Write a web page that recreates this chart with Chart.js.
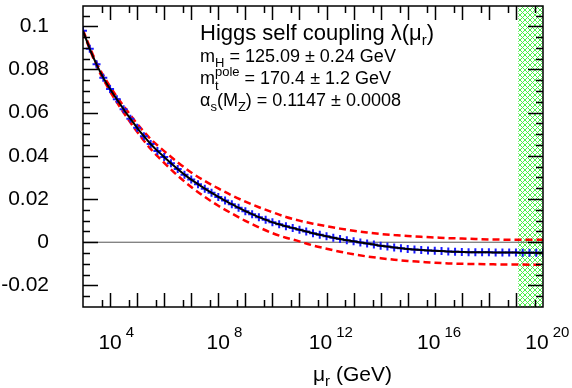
<!DOCTYPE html>
<html>
<head>
<meta charset="utf-8">
<script src="https://cdn.jsdelivr.net/npm/chart.js@4.4.1/dist/chart.umd.min.js"></script>
<style>
html, body { margin: 0; padding: 0; background: #fff; }
</style>
</head>
<body>
<canvas id="myChart" width="572" height="388"></canvas>
<script>
// log10(mu_r / GeV) grid of the central curve
var centralExp = [3, 3.25, 3.5, 3.75, 4, 4.25, 4.5, 4.75, 5, 5.25, 5.5, 5.75, 6, 6.25, 6.5, 6.75,
  7, 7.25, 7.5, 7.75, 8, 8.25, 8.5, 8.75, 9, 9.25, 9.5, 9.75, 10, 10.25, 10.5, 10.75,
  11, 11.25, 11.5, 11.75, 12, 12.25, 12.5, 12.75, 13, 13.25, 13.5, 13.75, 14, 14.25, 14.5, 14.75,
  15, 15.25, 15.5, 15.75, 16, 16.25, 16.5, 16.75, 17, 17.25, 17.5, 17.75, 18, 18.25, 18.5, 18.75,
  19, 19.25, 19.5, 19.75, 20];
var lambdaCentral = [0.0979, 0.0896, 0.0824, 0.0762, 0.0710, 0.0662, 0.0616, 0.0572, 0.0530, 0.0491, 0.0455, 0.0423, 0.0395, 0.0366, 0.0339, 0.0313,
  0.0290, 0.0269, 0.0248, 0.0229, 0.0210, 0.0193, 0.0176, 0.0160, 0.0144, 0.0130, 0.0116, 0.0104, 0.0092, 0.0083, 0.0074, 0.0066,
  0.0058, 0.0050, 0.0042, 0.0035, 0.0028, 0.0021, 0.0015, 0.0009, 0.0004, -0.0001, -0.0006, -0.0011, -0.0016, -0.0020, -0.0024, -0.0028,
  -0.0031, -0.0034, -0.0036, -0.0038, -0.0040, -0.0041, -0.0043, -0.0044, -0.0045, -0.0046, -0.0046, -0.0047, -0.0047, -0.0048, -0.0048, -0.0048,
  -0.0048, -0.0049, -0.0049, -0.0049, -0.0049];

// error band (red dashed)
var bandExp = [3, 3.5, 4, 4.5, 5, 5.5, 6, 6.5, 7, 7.5, 8, 8.5, 9, 9.5, 10, 10.5, 11, 11.5,
  12, 12.5, 13, 13.5, 14, 14.5, 15, 15.5, 16, 16.5, 17, 17.5, 18, 18.5, 19, 19.5, 20];
var lambdaUpper = [0.0982, 0.0831, 0.0721, 0.0631, 0.0549, 0.0478, 0.0422, 0.0370, 0.0323, 0.0284, 0.0249, 0.0217, 0.0188, 0.0162, 0.0139, 0.0117, 0.0100, 0.0086,
  0.0074, 0.0063, 0.0053, 0.0045, 0.0038, 0.0033, 0.0029, 0.0025, 0.0022, 0.0019, 0.0017, 0.0015, 0.0013, 0.0012, 0.0011, 0.0011, 0.0011];
var lambdaLower = [0.0976, 0.0817, 0.0699, 0.0601, 0.0511, 0.0432, 0.0368, 0.0308, 0.0256, 0.0210, 0.0169, 0.0133, 0.0099, 0.0069, 0.0042, 0.0021, 0.0004, -0.0015,
  -0.0030, -0.0044, -0.0056, -0.0066, -0.0074, -0.0081, -0.0087, -0.0091, -0.0095, -0.0098, -0.0100, -0.0101, -0.0102, -0.0103, -0.0103, -0.0104, -0.0104];

var planckMass = 1.22e19;
var xMinExp = 3, xMaxExp = 20;
var yMin = -0.03, yMax = 0.1094;
var yTickVals = [-0.02, 0, 0.02, 0.04, 0.06, 0.08, 0.1];
var yTickLabels = ['-0.02', '0', '0.02', '0.04', '0.06', '0.08', '0.1'];
var xLabelExp = [4, 8, 12, 16, 20];

var FONT = '"Liberation Sans", Arial, Helvetica, sans-serif';

function pts(exps, vals) {
  return exps.map(function (e, i) { return { x: Math.pow(10, e), y: vals[i] }; });
}

// green cross hatch for the region above the Planck mass
var pc = document.createElement('canvas');
pc.width = 5; pc.height = 5;
var p = pc.getContext('2d');
p.strokeStyle = '#4cf04c';
p.lineWidth = 1;
p.beginPath();
p.moveTo(0, 5); p.lineTo(5, 0);
p.moveTo(-1, 1); p.lineTo(1, -1);
p.moveTo(4, 6); p.lineTo(6, 4);
p.moveTo(0, 0); p.lineTo(5, 5);
p.stroke();
var hatch;

function rich(c, parts, x, y) {
  var cx = x;
  parts.forEach(function (q) {
    c.font = q.s + 'px ' + FONT;
    c.fillText(q.t, cx, y + (q.dy || 0));
    if (!q.keep) cx += c.measureText(q.t).width;
  });
}

var framePlugin = {
  id: 'frame',
  beforeDatasetsDraw: function (chart) {
    var c = chart.ctx, a = chart.chartArea, xs = chart.scales.x, ys = chart.scales.y;
    if (!hatch) hatch = c.createPattern(pc, 'repeat');
    var x0 = xs.getPixelForValue(planckMass);
    c.save();
    c.fillStyle = hatch;
    c.fillRect(x0, a.top, a.right - x0, a.bottom - a.top);
    var y0 = ys.getPixelForValue(0);
    c.strokeStyle = '#555';
    c.lineWidth = 1;
    c.beginPath(); c.moveTo(a.left, y0); c.lineTo(a.right, y0); c.stroke();
    c.restore();
  },
  afterDraw: function (chart) {
    var c = chart.ctx, a = chart.chartArea, xs = chart.scales.x, ys = chart.scales.y;
    c.save();
    c.strokeStyle = '#000';
    c.fillStyle = '#000';
    c.lineWidth = 1.5;
    c.strokeRect(a.left, a.top, a.right - a.left, a.bottom - a.top);

    c.beginPath();
    // x ticks, inward on bottom and top
    for (var n = xMinExp; n < xMaxExp; n++) {
      [[Math.pow(10, n), 14], [5 * Math.pow(10, n), 7]].forEach(function (t) {
        var px = Math.round(xs.getPixelForValue(t[0])) + 0.5;
        if (px <= a.left + 1 || px >= a.right - 1) return;
        c.moveTo(px, a.bottom); c.lineTo(px, a.bottom - t[1]);
        c.moveTo(px, a.top); c.lineTo(px, a.top + t[1]);
      });
    }
    // y ticks, inward on left and right
    for (var k = -6; k <= 22; k++) {
      var v = k * 0.005;
      var py = Math.round(ys.getPixelForValue(v)) + 0.5;
      if (py <= a.top + 1 || py >= a.bottom - 1) continue;
      var len = (k % 4 === 0) ? 15 : 7;
      c.moveTo(a.left, py); c.lineTo(a.left + len, py);
      c.moveTo(a.right, py); c.lineTo(a.right - len, py);
    }
    c.stroke();

    // y labels
    c.font = '21px ' + FONT;
    c.textAlign = 'right';
    c.textBaseline = 'middle';
    yTickVals.forEach(function (v, i) {
      c.fillText(yTickLabels[i], 49, ys.getPixelForValue(v));
    });

    // x labels 10^n
    c.textAlign = 'left';
    c.textBaseline = 'alphabetic';
    xLabelExp.forEach(function (e) {
      var px = xs.getPixelForValue(Math.pow(10, e));
      c.font = '21px ' + FONT;
      var w10 = c.measureText('10').width;
      c.font = '15px ' + FONT;
      var ew = c.measureText(String(e)).width;
      var left = px - w10 / 2 - (ew > 10 ? 6 : 0);
      c.font = '21px ' + FONT;
      c.fillText('10', left, 349);
      c.font = '15px ' + FONT;
      c.fillText(String(e), left + w10 + 4, 337);
    });

    // axis title
    rich(c, [{ t: 'μ', s: 21 }, { t: 'r', s: 15, dy: 5 }, { t: ' (GeV)', s: 21 }], 313, 381);

    // info text
    rich(c, [{ t: 'Higgs self coupling λ(μ', s: 22 }, { t: 'r', s: 15, dy: 5 }, { t: ')', s: 22 }], 200, 40);
    rich(c, [{ t: 'm', s: 18 }, { t: 'H', s: 13, dy: 5 }, { t: ' = 125.09 ± 0.24 GeV', s: 18 }], 200, 62);
    rich(c, [{ t: 'm', s: 18 }, { t: 't', s: 13, dy: 6, keep: true }, { t: 'pole', s: 13, dy: -8 }, { t: ' = 170.4 ± 1.2 GeV', s: 18 }], 200, 84);
    rich(c, [{ t: 'α', s: 18 }, { t: 's', s: 13, dy: 5 }, { t: '(M', s: 18 }, { t: 'Z', s: 13, dy: 5 }, { t: ') = 0.1147 ± 0.0008', s: 18 }], 200, 106);
    c.restore();
  }
};

var ctx = document.getElementById('myChart');
var myChart = new Chart(ctx, {
  type: 'line',
  data: {
    datasets: [{
      label: 'central',
      data: pts(centralExp, lambdaCentral),
      borderColor: '#000',
      borderWidth: 2,
      pointRadius: 0,
      cubicInterpolationMode: 'monotone'
    }, {
      label: 'central points',
      data: pts(centralExp, lambdaCentral),
      showLine: false,
      pointStyle: 'cross',
      pointRadius: 4,
      pointBorderWidth: 2,
      pointBorderColor: '#1a1aff'
    }, {
      label: 'upper',
      data: pts(bandExp, lambdaUpper),
      borderColor: '#ff0000',
      borderWidth: 2.5,
      borderDash: [7, 4],
      pointRadius: 0,
      cubicInterpolationMode: 'monotone'
    }, {
      label: 'lower',
      data: pts(bandExp, lambdaLower),
      borderColor: '#ff0000',
      borderWidth: 2.5,
      borderDash: [7, 4],
      pointRadius: 0,
      cubicInterpolationMode: 'monotone'
    }]
  },
  options: {
    responsive: false,
    animation: false,
    devicePixelRatio: 1,
    layout: { padding: { left: 83, top: 2, right: 29, bottom: 81 } },
    plugins: { legend: { display: false }, tooltip: { enabled: false } },
    scales: {
      x: { type: 'logarithmic', min: Math.pow(10, xMinExp), max: Math.pow(10, xMaxExp), display: false },
      y: { type: 'linear', min: yMin, max: yMax, display: false }
    }
  },
  plugins: [framePlugin]
});
</script>
</body>
</html>
